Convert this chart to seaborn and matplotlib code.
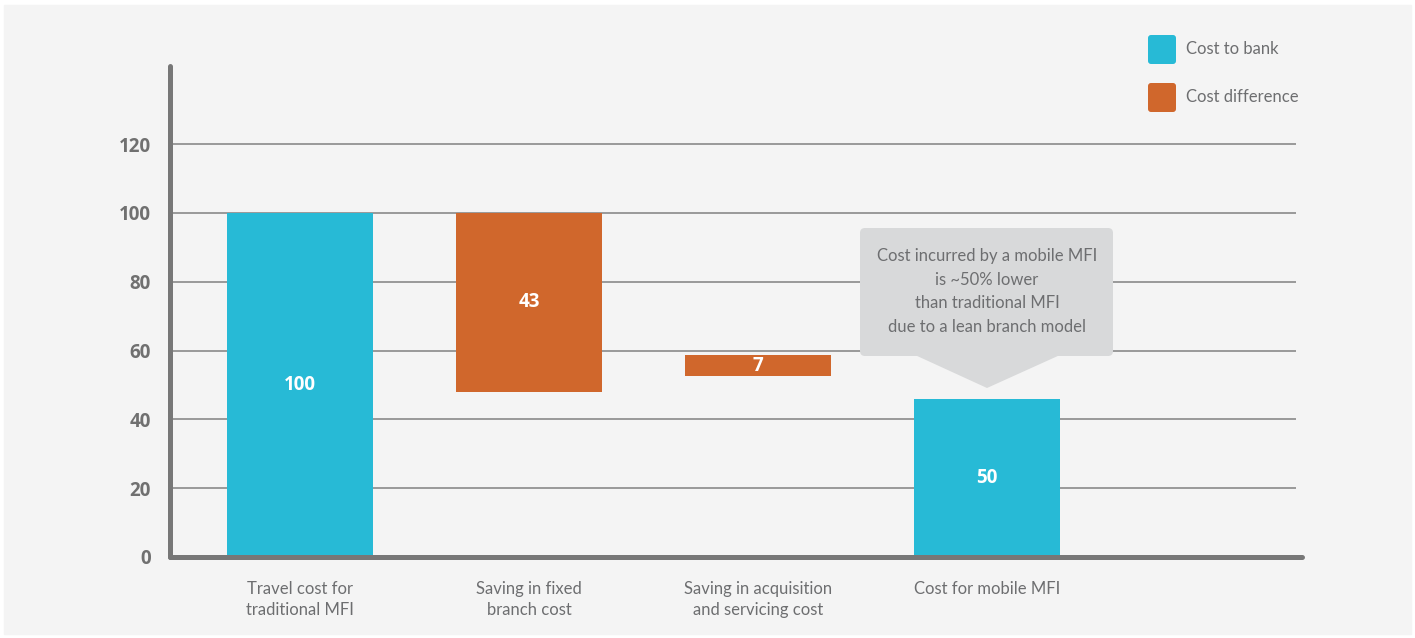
import matplotlib
matplotlib.use("Agg")
import matplotlib.pyplot as plt
from matplotlib.patches import FancyBboxPatch, Rectangle, Polygon
import seaborn as sns
import pandas as pd

# data
categories = ["Travel cost for\ntraditional MFI", "Saving in fixed\nbranch cost",
              "Saving in acquisition\nand servicing cost", "Cost for mobile MFI"]
bar_bottom = [0, 48.0, 52.6, 0]
bar_top = [100, 100, 58.7, 45.9]
bar_labels = ["100", "43", "7", "50"]
bar_kind = ["Cost to bank", "Cost difference", "Cost difference", "Cost to bank"]
y_ticks = [0, 20, 40, 60, 80, 100, 120]

kind_colors = {"Cost to bank": "#27bad6", "Cost difference": "#d0672c"}
grey_txt = "#6d6e70"
axis_grey = "#777777"
bold_family = ["Open Sans", "DejaVu Sans"]

sns.set_theme(style="white")
plt.rcParams["font.family"] = ["Lato", "DejaVu Sans"]

df = pd.DataFrame({"cat": categories, "bottom": bar_bottom, "top": bar_top,
                   "label": bar_labels, "kind": bar_kind})
df["span"] = df["top"] - df["bottom"]

fig = plt.figure(figsize=(14.15, 6.38), dpi=100, facecolor="white")
fig.patches.append(Rectangle((4 / 1415, 4 / 638), 1407 / 1415, 629 / 638,
                             transform=fig.transFigure, color="#f4f4f4", zorder=-5))
ax = fig.add_axes([170 / 1415, (638 - 557) / 638, (1302 - 170) / 1415, (557 - 66) / 638])
ax.set_facecolor("none")

palette = [kind_colors[k] for k in df["kind"]]
sns.barplot(data=df, x="cat", y="span", hue="cat", palette=palette, legend=False,
            width=0.64, saturation=1, ax=ax, zorder=3)
for patch, b in zip(ax.patches, df["bottom"]):
    patch.set_y(b)
    patch.set_edgecolor("none")

for i, row in df.iterrows():
    ax.text(i, (row["bottom"] + row["top"]) / 2, row["label"], ha="center", va="center",
            color="white", fontsize=13.5, fontweight="bold", family=bold_family, zorder=4)

ax.set_xlim(-0.568, 4.376)
ax.set_ylim(0, 142.7)
ax.hlines(y_ticks[1:], -0.568, 4.35, color="#8a8a8a", linewidth=1.2, zorder=1)

for s in ["top", "right"]:
    ax.spines[s].set_visible(False)
for s in ["left", "bottom"]:
    ax.spines[s].set_color(axis_grey)
    ax.spines[s].set_linewidth(3.6)
    ax.spines[s].set_capstyle("round")
    ax.spines[s].set_zorder(4)

ax.set_yticks(y_ticks)
ax.set_yticklabels([str(v) for v in y_ticks])
ax.tick_params(axis="y", length=0, pad=14, labelsize=13.5, labelcolor="#707070")
for t in ax.get_yticklabels():
    t.set_fontweight("bold")
    t.set_family(bold_family)
ax.tick_params(axis="x", length=0, pad=17, labelsize=12, labelcolor=grey_txt)
for t in ax.get_xticklabels():
    t.set_linespacing(1.45)
ax.set_xlabel("")
ax.set_ylabel("")

# callout
tr = fig.dpi_scale_trans
fig.patches.append(FancyBboxPatch((8.60, 2.82), 2.53, 1.28, boxstyle="round,pad=0,rounding_size=0.05",
                                  transform=tr, facecolor="#d8d9da", edgecolor="none", zorder=5))
fig.patches.append(Polygon([(9.15, 2.83), (10.60, 2.83), (9.87, 2.50)], closed=True,
                           transform=tr, facecolor="#d8d9da", edgecolor="none", zorder=5))
fig.text(9.87 / 14.15, 3.465 / 6.38,
         "Cost incurred by a mobile MFI\nis ~50% lower\nthan traditional MFI\ndue to a lean branch model",
         ha="center", va="center", fontsize=12, color=grey_txt, linespacing=1.6, zorder=6)

# legend
for y0, name in [(5.74, "Cost to bank"), (5.26, "Cost difference")]:
    k = kind_colors[name]
    fig.patches.append(FancyBboxPatch((11.48, y0), 0.28, 0.29, boxstyle="round,pad=0,rounding_size=0.03",
                                      transform=tr, facecolor=k, edgecolor="none", zorder=5))
    fig.text(11.86 / 14.15, (y0 + 0.145) / 6.38, name, ha="left", va="center",
             fontsize=12, color=grey_txt)

fig.savefig("out.png", dpi=100, facecolor=fig.get_facecolor())
